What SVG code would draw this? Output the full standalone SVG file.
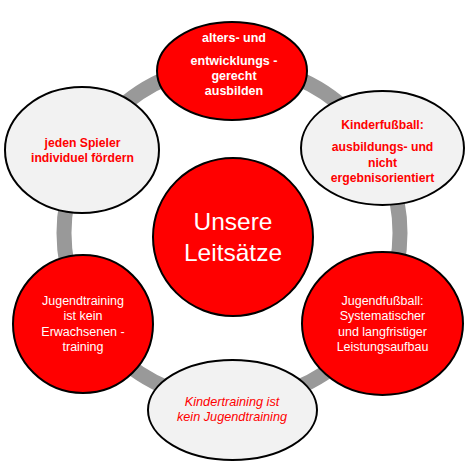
<svg xmlns="http://www.w3.org/2000/svg" width="471" height="469" viewBox="0 0 471 469">
<style>
.red{fill:#ff0000;stroke:#000;stroke-width:2}
.grey{fill:#f2f2f2;stroke:#000;stroke-width:2}
text{font-family:"Liberation Sans",Arial,sans-serif;text-anchor:middle}
.wb{fill:#fff;font-weight:bold;font-size:12.5px}
.rb{fill:#ff0000;font-weight:bold;font-size:12.2px}
.w{fill:#fff;font-size:12.5px}
.ri{fill:#ff0000;font-style:italic;font-size:12.7px}
</style>
<rect width="471" height="469" fill="#fff"/>
<g id="connectors">
<circle cx="232" cy="233" r="168" fill="none" stroke="#999" stroke-width="15"/>
</g>
<g id="center">
<ellipse class="red" cx="233" cy="237" rx="80" ry="79"/>
<text x="233" y="230" fill="#fff" font-size="24.5">Unsere</text>
<text x="233" y="261" fill="#fff" font-size="24.5">Leitsätze</text>
</g>
<g id="top">
<ellipse class="red" cx="232" cy="71" rx="75" ry="49"/>
<text class="wb" x="234" y="42">alters- und</text>
<text class="wb" x="234" y="65">entwicklungs -</text>
<text class="wb" x="234" y="80">gerecht</text>
<text class="wb" x="234" y="95">ausbilden</text>
</g>
<g id="right-top">
<ellipse class="grey" cx="382.5" cy="148" rx="81.5" ry="57"/>
<text class="rb" x="382.5" y="129" font-size="13.5">Kinderfußball:</text>
<text class="rb" x="382.5" y="151">ausbildungs- und</text>
<text class="rb" x="382.5" y="167">nicht</text>
<text class="rb" x="382.5" y="182">ergebnisorientiert</text>
</g>
<g id="left-top">
<ellipse class="grey" cx="82" cy="150" rx="77" ry="63"/>
<text class="rb" x="82.5" y="147">jeden Spieler</text>
<text class="rb" x="82.5" y="162">individuel fördern</text>
</g>
<g id="left-bottom">
<ellipse class="red" cx="83" cy="324" rx="70" ry="69"/>
<text class="w" x="83" y="305">Jugendtraining</text>
<text class="w" x="83" y="320">ist kein</text>
<text class="w" x="83" y="336">Erwachsenen -</text>
<text class="w" x="83" y="351">training</text>
</g>
<g id="right-bottom">
<ellipse class="red" cx="382.5" cy="323.5" rx="80.5" ry="71.5"/>
<text class="w" x="382.5" y="305">Jugendfußball:</text>
<text class="w" x="382.5" y="320">Systematischer</text>
<text class="w" x="382.5" y="336">und langfristiger</text>
<text class="w" x="382.5" y="351">Leistungsaufbau</text>
</g>
<g id="bottom">
<ellipse class="grey" cx="232.5" cy="410" rx="84.5" ry="50"/>
<text class="ri" x="232" y="406">Kindertraining ist</text>
<text class="ri" x="232" y="421">kein Jugendtraining</text>
</g>
</svg>
